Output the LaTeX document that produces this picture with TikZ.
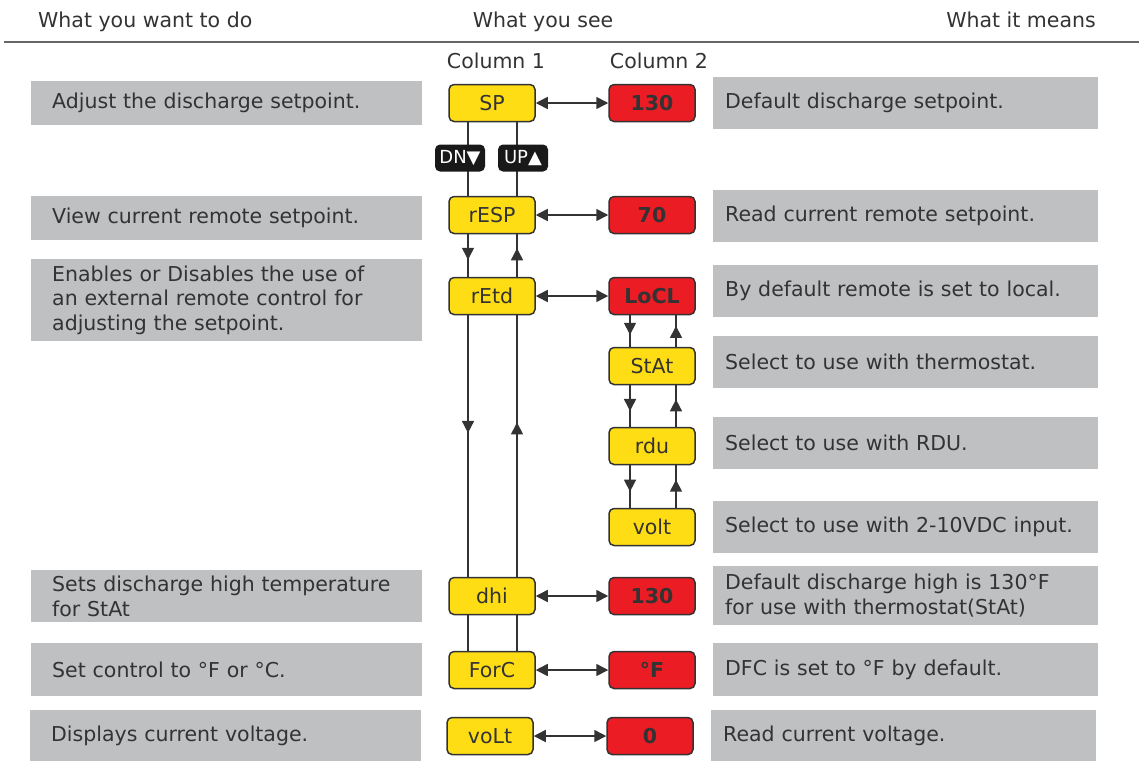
\documentclass[tikz,border=0pt]{standalone}
\usepackage{fontspec}
\setmainfont{DejaVu Sans}
\usetikzlibrary{arrows.meta,decorations.markings}
\definecolor{boxgray}{HTML}{BFC0C2}
\definecolor{codeyellow}{HTML}{FFDD15}
\definecolor{codered}{HTML}{EC1C24}
\definecolor{inkgray}{HTML}{333333}
\definecolor{rulegray}{HTML}{666666}
\tikzset{midtip/.style={link, postaction={decorate, decoration={markings, mark=at position #1 with {\arrow{Triangle[length=12pt,width=12pt]}}}}}}

\begin{document}
\begin{tikzpicture}[x=1pt,y=-1pt]
\tikzstyle{every node}=[font=\fontsize{20.5}{24.5}\selectfont, text=inkgray]
\tikzstyle{heading}=[inner sep=0pt]
\tikzstyle{leftbox}=[fill=boxgray, anchor=north west, inner xsep=21pt, inner ysep=0pt, text width=349pt, align=left]
\tikzstyle{rightbox}=[fill=boxgray, anchor=north west, inner xsep=12pt, inner ysep=0pt, text width=361pt, align=left]
\tikzstyle{codebox}=[draw=inkgray, line width=1.5pt, rounded corners=5pt, minimum width=86pt, minimum height=37pt, inner sep=0pt, fill=codeyellow]
\tikzstyle{valuebox}=[codebox, fill=codered, font=\fontsize{20.5}{24.5}\selectfont\bfseries]
\tikzstyle{badge}=[fill=black!90, rounded corners=5pt, minimum width=50pt, minimum height=27pt, inner sep=1pt, text=white, font=\fontsize{18}{18}\selectfont]
\tikzstyle{link}=[line width=1.6pt, draw=inkgray, color=inkgray]
\tikzstyle{both}=[link, {Triangle[length=12pt,width=12pt]}-{Triangle[length=12pt,width=12pt]}]
	\useasboundingbox (0,0) rectangle (1139,761);

	\node[heading, anchor=base west] (hdo) at (38,27) {What you want to do};
	\node[heading, anchor=base] (hsee) at (543,27) {What you see};
	\node[heading, anchor=base east] (hmean) at (1096,27) {What it means};
	\draw[rulegray, line width=2pt] (4,42) -- (1139,42);
	\node[heading, anchor=base] (col1) at (496,68) {Column 1};
	\node[heading, anchor=base] (col2) at (659,68) {Column 2};

	\node[leftbox, minimum height=44pt] (doSP) at (31,81) {Adjust the discharge setpoint.};
	\node[leftbox, minimum height=44pt] (doRESP) at (31,196) {View current remote setpoint.};
	\node[leftbox, minimum height=82pt] (doRETD) at (31,259) {Enables or Disables the use of\\an external remote control for\\adjusting the setpoint.};
	\node[leftbox, minimum height=52pt] (doDHI) at (31,570) {Sets discharge high temperature\\for StAt};
	\node[leftbox, minimum height=53pt] (doFORC) at (31,643) {Set control to °F or °C.};
	\node[leftbox, minimum height=51pt] (doVOLT) at (30,710) {Displays current voltage.};

	\node[rightbox, minimum height=52pt] (meSP) at (713,77) {Default discharge setpoint.};
	\node[rightbox, minimum height=52pt] (meRESP) at (713,190) {Read current remote setpoint.};
	\node[rightbox, minimum height=52pt] (meLOCL) at (713,265) {By default remote is set to local.};
	\node[rightbox, minimum height=52pt] (meSTAT) at (713,336) {Select to use with thermostat.};
	\node[rightbox, minimum height=52pt] (meRDU) at (713,417) {Select to use with RDU.};
	\node[rightbox, minimum height=52pt] (meVSEL) at (713,501) {Select to use with 2-10VDC input.};
	\node[rightbox, minimum height=59pt] (meDHI) at (713,566) {Default discharge high is 130°F\\for use with thermostat(StAt)};
	\node[rightbox, minimum height=53pt] (meFORC) at (713,643) {DFC is set to °F by default.};
	\node[rightbox, minimum height=51pt] (meVOLT) at (711,710) {Read current voltage.};

	\node[codebox] (sp) at (492,103) {SP};
	\node[codebox] (resp) at (492,215) {rESP};
	\node[codebox] (retd) at (492,296) {rEtd};
	\node[codebox] (dhi) at (492,596) {dhi};
	\node[codebox] (forc) at (492,670) {ForC};
	\node[codebox] (volt) at (490,736) {voLt};

	\node[valuebox] (vsp) at (652,103) {130};
	\node[valuebox] (vresp) at (652,215) {70};
	\node[valuebox] (locl) at (652,296) {LoCL};
	\node[codebox] (stat) at (652,366) {StAt};
	\node[codebox] (rdu) at (652,446) {rdu};
	\node[codebox] (vsel) at (652,527) {volt};
	\node[valuebox] (vdhi) at (652,596) {130};
	\node[valuebox] (vforc) at (652,670) {°F};
	\node[valuebox] (vvolt) at (650,736) {0};

	\foreach \Code/\Value in {sp/vsp, resp/vresp, retd/locl, dhi/vdhi, forc/vforc, volt/vvolt}{
		\draw[both] (\Code) -- (\Value);
	}

	\draw[link] ([xshift=-24pt]sp.south) -- ([xshift=-24pt]resp.north);
	\draw[midtip=0.6] ([xshift=-24pt]resp.south) -- ([xshift=-24pt]retd.north);
	\draw[midtip=0.45] ([xshift=-24pt]retd.south) -- ([xshift=-24pt]dhi.north);
	\draw[link] ([xshift=-24pt]dhi.south) -- ([xshift=-24pt]forc.north);
	\draw[link] ([xshift=25pt]resp.north) -- ([xshift=25pt]sp.south);
	\draw[midtip=0.67] ([xshift=25pt]retd.north) -- ([xshift=25pt]resp.south);
	\draw[midtip=0.59] ([xshift=25pt]dhi.north) -- ([xshift=25pt]retd.south);
	\draw[link] ([xshift=25pt]forc.north) -- ([xshift=25pt]dhi.south);

	\foreach \Upper/\Lower in {locl/stat, stat/rdu, rdu/vsel}{
		\draw[midtip=0.62] ([xshift=-22pt]\Upper.south) -- ([xshift=-22pt]\Lower.north);
		\draw[midtip=0.66] ([xshift=24pt]\Lower.north) -- ([xshift=24pt]\Upper.south);
	}

	\node[badge] (dn) at (460,158) {DN▼};
	\node[badge] (up) at (523,158) {UP▲};
\end{tikzpicture}
\end{document}
